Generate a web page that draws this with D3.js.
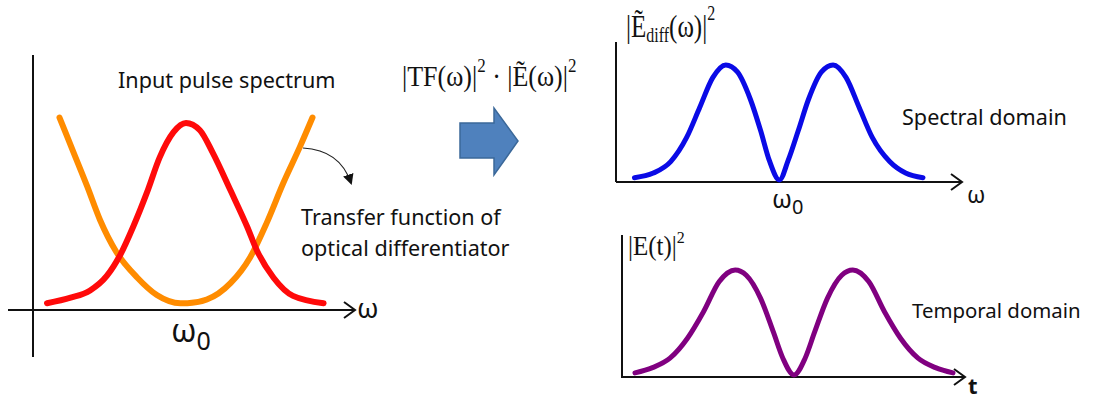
<!DOCTYPE html>
<html>
<head>
<meta charset="utf-8">
<script src="https://cdn.jsdelivr.net/npm/d3@7/dist/d3.min.js"></script>
<style>
  html, body { margin: 0; padding: 0; background: #fff; }
  svg { display: block; }
  .sans { font-family: "Noto Sans", "Open Sans", sans-serif; fill: #111; }
  .serif { font-family: "Liberation Serif", "DejaVu Serif", serif; fill: #111; }
</style>
</head>
<body>
<svg id="chart" width="1104" height="400"></svg>
<script>
// ---- data: normalised curves, x = (ω − ω0) or t, y = relative intensity ----
const inputSpectrum = [
  [-1.00, 0.01], [-0.83, 0.04], [-0.69, 0.08], [-0.57, 0.16], [-0.47, 0.28],
  [-0.38, 0.43], [-0.28, 0.62], [-0.19, 0.81], [-0.09, 0.95], [0.00, 1.00],
  [0.10, 0.96], [0.19, 0.84], [0.32, 0.63], [0.44, 0.43], [0.51, 0.30],
  [0.63, 0.15], [0.77, 0.05], [0.99, 0.01]
];
const transferFunction = [
  [-0.91, 1.03], [-0.81, 0.84], [-0.71, 0.65], [-0.62, 0.47], [-0.50, 0.29],
  [-0.35, 0.15], [-0.21, 0.055], [-0.04, 0.01], [0.01, 0.01], [0.15, 0.03],
  [0.32, 0.12], [0.46, 0.26], [0.58, 0.45], [0.70, 0.67], [0.82, 0.87],
  [0.91, 1.03]
];
const diffSpectrum = [
  [-0.99, 0.02], [-0.86, 0.06], [-0.74, 0.16], [-0.63, 0.37], [-0.54, 0.63],
  [-0.45, 0.89], [-0.36, 1.00], [-0.28, 0.94], [-0.19, 0.70], [-0.12, 0.43],
  [-0.06, 0.17], [0.01, 0.00], [0.07, 0.17], [0.14, 0.43], [0.21, 0.70],
  [0.30, 0.94], [0.38, 1.00], [0.47, 0.89], [0.56, 0.63], [0.65, 0.37],
  [0.77, 0.16], [0.88, 0.06], [1.00, 0.02]
];
const temporalIntensity = [
  [-1.00, 0.02], [-0.89, 0.07], [-0.78, 0.16], [-0.67, 0.35], [-0.57, 0.60],
  [-0.47, 0.89], [-0.37, 1.00], [-0.30, 0.95], [-0.21, 0.73], [-0.13, 0.41],
  [-0.07, 0.16], [0.00, 0.00], [0.07, 0.16], [0.13, 0.41], [0.21, 0.73],
  [0.30, 0.95], [0.37, 1.00], [0.47, 0.89], [0.57, 0.60], [0.67, 0.35],
  [0.78, 0.16], [0.89, 0.07], [1.00, 0.02]
];
const labels = {
  input: "Input pulse spectrum",
  transfer: ["Transfer function of", "optical differentiator"],
  spectral: "Spectral domain",
  temporal: "Temporal domain"
};

// ---- layout ----
const svg = d3.select("#chart");

const panels = {
  left: { x: [47, 325],  y: [305, 123], axisX: 33,  axisY: 310, yTop: 55,  yBot: 357, xStart: 8,   xEnd: 355 },
  spec: { x: [633, 923], y: [180, 65],  axisX: 616, axisY: 182, yTop: 42,  yBot: 182, xStart: 616, xEnd: 962 },
  temp: { x: [635, 953], y: [375, 270], axisX: 622, axisY: 377, yTop: 235, yBot: 378, xStart: 622, xEnd: 965 }
};
for (const p of Object.values(panels)) {
  p.sx = d3.scaleLinear().domain([-1, 1]).range(p.x);
  p.sy = d3.scaleLinear().domain([0, 1]).range(p.y);
}

function drawAxes(p) {
  const g = svg.append("g").attr("stroke", "#111").attr("stroke-width", 2).attr("fill", "none");
  g.append("line").attr("x1", p.axisX).attr("x2", p.axisX).attr("y1", p.yTop).attr("y2", p.yBot);
  g.append("line").attr("x1", p.xStart).attr("x2", p.xEnd).attr("y1", p.axisY).attr("y2", p.axisY);
  g.append("path")
    .attr("d", `M${p.xEnd - 11},${p.axisY - 8} L${p.xEnd},${p.axisY} L${p.xEnd - 11},${p.axisY + 8}`)
    .attr("stroke-linejoin", "miter");
}

function drawCurve(p, data, color, width) {
  const line = d3.line()
    .x(d => p.sx(d[0]))
    .y(d => p.sy(d[1]))
    .curve(d3.curveMonotoneX);
  svg.append("path")
    .datum(data)
    .attr("d", line)
    .attr("fill", "none")
    .attr("stroke", color)
    .attr("stroke-width", width)
    .attr("stroke-linecap", "round")
    .attr("stroke-linejoin", "round");
}

// serif formula text, slightly stretched vertically like equation-editor output
function formula(x, y, size, stretch) {
  return svg.append("text").attr("class", "serif")
    .attr("transform", `translate(${x},${y}) scale(1,${stretch})`)
    .attr("font-size", size);
}

// ---- left panel: input spectrum and transfer function ----
drawAxes(panels.left);
drawCurve(panels.left, transferFunction, "#ff8c00", 6);
drawCurve(panels.left, inputSpectrum, "#ff0a0a", 6);

svg.append("text").attr("class", "sans").attr("x", 118).attr("y", 88)
  .attr("font-size", 21.6).text(labels.input);

const omegaSub = (x, y, big, small, shift) => {
  const t = svg.append("text").attr("class", "sans").attr("x", x).attr("y", y).attr("font-size", big);
  t.append("tspan").text("ω");
  t.append("tspan").attr("font-size", small).attr("dy", shift).text("0");
};
omegaSub(171, 342, 32, 25, 8);
svg.append("text").attr("class", "sans").attr("x", 357).attr("y", 318)
  .attr("font-size", 27).text("ω");

// annotation arrow pointing from the transfer curve to its caption
svg.append("defs").append("marker")
  .attr("id", "tri").attr("viewBox", "0 0 10 10").attr("refX", 8).attr("refY", 5)
  .attr("markerWidth", 9).attr("markerHeight", 9).attr("orient", "auto")
  .append("path").attr("d", "M0,0 L10,5 L0,10 Z").attr("fill", "#111");
svg.append("path")
  .attr("d", "M303,148 Q340,150 351,183")
  .attr("fill", "none").attr("stroke", "#222").attr("stroke-width", 1.2)
  .attr("marker-end", "url(#tri)");

labels.transfer.forEach((s, i) => {
  svg.append("text").attr("class", "sans").attr("x", 301).attr("y", 225 + i * 31)
    .attr("font-size", 21.6).text(s);
});

// ---- middle: operation formula and block arrow ----
const f = formula(402, 86, 26, 1.15);
f.append("tspan").text("|TF(ω)|");
f.append("tspan").attr("font-size", 17).attr("dy", -12).text("2");
f.append("tspan").attr("dy", 12).text(" · |Ẽ(ω)|");
f.append("tspan").attr("font-size", 17).attr("dy", -12).text("2");

svg.append("path")
  .attr("d", "M460,123 L494,123 L494,108 L518,141 L494,175 L494,158 L460,158 Z")
  .attr("fill", "#4f81bd").attr("stroke", "#3b6899").attr("stroke-width", 1.5);

// ---- top right: differentiated spectrum ----
drawAxes(panels.spec);
drawCurve(panels.spec, diffSpectrum, "#0a0ae6", 5);

const e1 = formula(626, 37, 25, 1.3);
e1.append("tspan").text("|Ẽ");
e1.append("tspan").attr("font-size", 16).attr("dy", 4).text("diff");
e1.append("tspan").attr("dy", -4).text("(ω)|");
e1.append("tspan").attr("font-size", 16).attr("dy", -13).text("2");

omegaSub(772, 208, 25, 20, 6);
svg.append("text").attr("class", "sans").attr("x", 967).attr("y", 203)
  .attr("font-size", 23).text("ω");
svg.append("text").attr("class", "sans").attr("x", 902).attr("y", 125)
  .attr("font-size", 21.6).text(labels.spectral);

// ---- bottom right: temporal intensity ----
drawAxes(panels.temp);
drawCurve(panels.temp, temporalIntensity, "#800080", 5);

const e2 = formula(628, 255, 25, 1.05);
e2.append("tspan").text("|E(t)|");
e2.append("tspan").attr("font-size", 16).attr("dy", -11).text("2");

svg.append("text").attr("class", "sans").attr("x", 968).attr("y", 394)
  .attr("font-size", 22).attr("font-weight", "bold").text("t");
svg.append("text").attr("class", "sans").attr("x", 912).attr("y", 318)
  .attr("font-size", 20.4).text(labels.temporal);
</script>
</body>
</html>
